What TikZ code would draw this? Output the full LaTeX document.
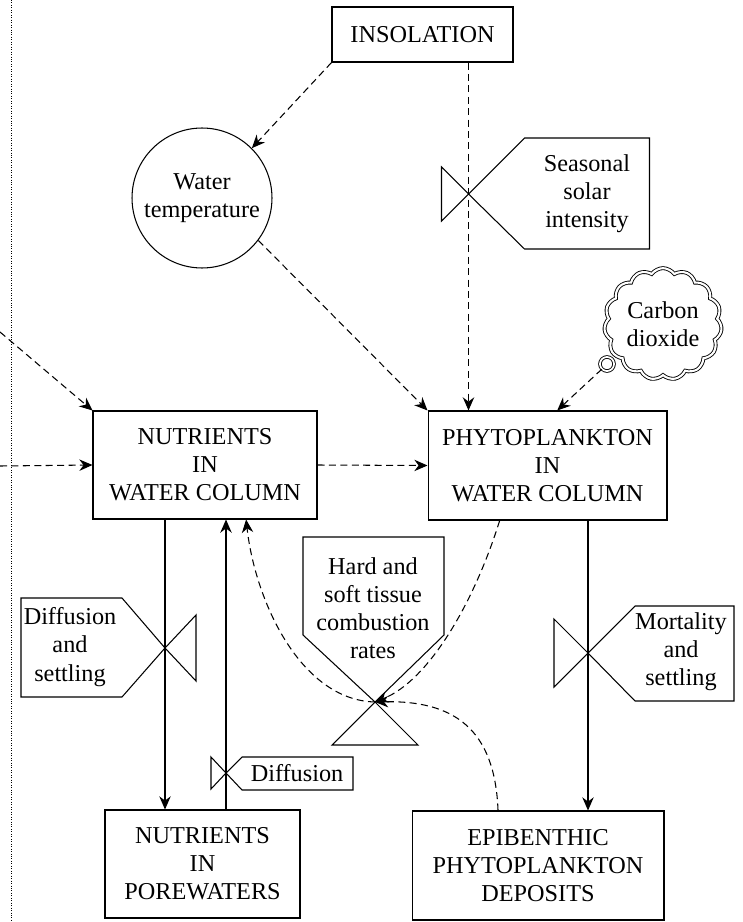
\documentclass[tikz,border=0pt]{standalone}
\usepackage{fontspec}
\setmainfont{Liberation Serif}
\usetikzlibrary{arrows.meta,shapes.symbols}

\tikzset{
  stock/.style={draw, rectangle, align=center, line width=0.6pt, inner sep=0pt},
  aux/.style={draw, circle, align=center, line width=0.6pt, inner sep=0pt, minimum size=2.8cm},
  info/.style={line width=0.6pt, dash pattern=on 4pt off 2.5pt, -{Stealth[length=7.5pt,width=6.5pt]}},
  flow/.style={line width=0.6pt, -{Stealth[length=7.5pt,width=6.5pt]}},
  valve/.style={line width=0.6pt},
  vlabel/.style={align=center, inner sep=0pt},
}

\begin{document}
\begin{tikzpicture}[x=0.02cm, y=-0.02cm, font=\fontsize{13.8}{16}\selectfont]
\useasboundingbox (0,0) rectangle (743,922);

% boundary of the system
\draw[line width=0.4pt, densely dotted] (11,0) -- (11,922);

% stocks and auxiliaries
\node[stock, minimum width=3.62cm, minimum height=1.1cm] (ins) at (422.5,34.5) {INSOLATION};
\node[aux] (wt) at (202,198) {Water\\temperature};
\node[stock, minimum width=4.48cm, minimum height=2.16cm] (nwc) at (205,465) {NUTRIENTS\\IN\\WATER COLUMN};
\node[stock, minimum width=4.78cm, minimum height=2.18cm] (pwc) at (547.5,465.5) {PHYTOPLANKTON\\IN\\WATER COLUMN};
\node[stock, minimum width=3.9cm, minimum height=2.16cm] (npw) at (202.5,864) {NUTRIENTS\\IN\\POREWATERS};
\node[stock, minimum width=5.04cm, minimum height=2.18cm] (epd) at (538,865.5) {EPIBENTHIC\\PHYTOPLANKTON\\DEPOSITS};
\node[cloud, draw, line width=0.5pt, double, double distance=1.2pt, cloud puffs=15, cloud puff arc=110,
      minimum width=2.35cm, minimum height=2.05cm, align=center, inner sep=0pt] (co2) at (663,324) {Carbon\\dioxide};
\node[draw, circle, line width=0.5pt, double, double distance=1pt, minimum size=8pt, inner sep=0pt] (tail) at (607,364) {};

% valves
\coordinate (ssv) at (468.5,194);
\coordinate (dsv) at (165,648);
\coordinate (dfv) at (226,773);
\coordinate (msv) at (588,653);
\coordinate (hsv) at (375,702);

\draw[valve] (ssv) -- ++(-27,-27) -- ++(0,54) -- cycle;
\draw[valve] (ssv) -- ++(56,-56) -- ++(125,0) -- ++(0,111) -- ++(-125,0) -- cycle;
\draw[valve] (dsv) -- ++(31,-33) -- ++(0,66) -- cycle;
\draw[valve] (dsv) -- ++(-43,-50) -- ++(-101,0) -- ++(0,99) -- ++(101,0) -- cycle;
\draw[valve] (dfv) -- ++(-15,-16) -- ++(0,32) -- cycle;
\draw[valve] (dfv) -- ++(16,-16) -- ++(111,0) -- ++(0,33) -- ++(-111,0) -- cycle;
\draw[valve] (msv) -- ++(-34,-34) -- ++(0,68) -- cycle;
\draw[valve] (msv) -- ++(47,-47) -- ++(99,0) -- ++(0,95) -- ++(-99,0) -- cycle;
\draw[valve] (hsv) -- ++(-43,43) -- ++(86,0) -- cycle;
\draw[valve] (hsv) -- ++(-72,-67) -- ++(0,-98) -- ++(141,0) -- ++(0,98) -- cycle;

\node[vlabel] (ssl) at (587,194) {Seasonal\\solar\\intensity};
\node[vlabel] (dsl) at (70,647) {Diffusion\\and\\settling};
\node[vlabel] (dfl) at (297,773) {Diffusion};
\node[vlabel] (msl) at (681,652) {Mortality\\and\\settling};
\node[vlabel] (hsl) at (373,608) {Hard and\\soft tissue\\combustion\\rates};

% information links
\coordinate (in1) at (0,332);
\coordinate (in2) at (0,466);
\draw[info] (ins.south west) -- (wt.45);
\draw[info] (ins.south -| ssv) -- (pwc.north -| ssv);
\draw[info] (wt.-37) -- (pwc.north west);
\draw[info] (tail.south west) -- (pwc.80);
\draw[info] (in1) -- (nwc.north west);
\draw[info] (in2) -- (nwc.west);
\draw[info] (nwc.east) -- (pwc.west);
\draw[info] (pwc.229) .. controls (475,600) and (430,680) .. (hsv);
\draw[info] (epd.126) .. controls (495,730) and (455,700) .. (hsv);
\draw[info] (hsv) .. controls (300,700) and (255,600) .. (nwc.-53);

% material flows
\draw[flow] (nwc.south -| dsv) -- (npw.north -| dsv);
\draw[flow] (npw.north -| dfv) -- (nwc.south -| dfv);
\draw[flow] (pwc.south -| msv) -- (epd.north -| msv);
\end{tikzpicture}
\end{document}
